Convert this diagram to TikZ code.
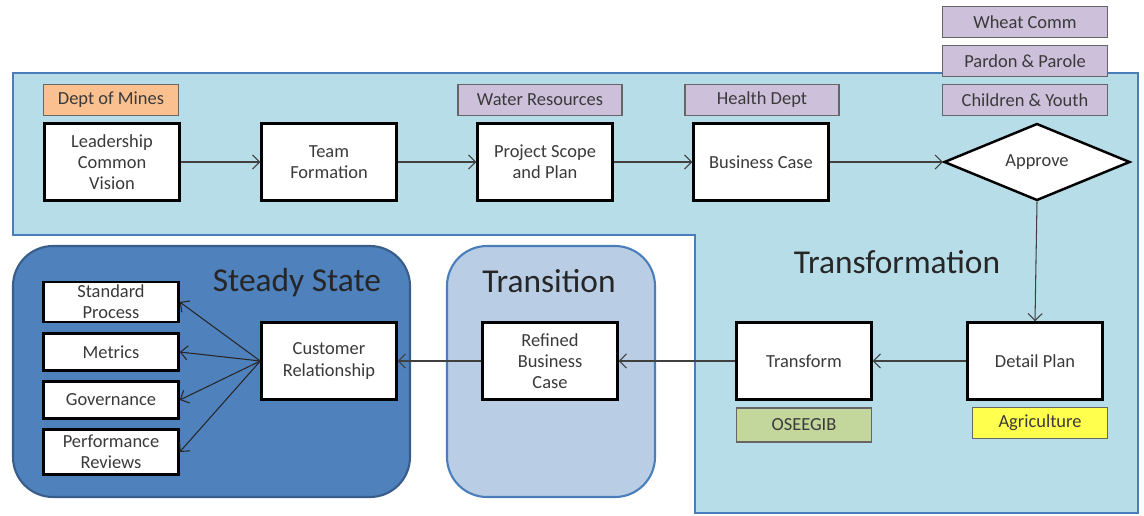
\documentclass[tikz,border=0pt]{standalone}
\usepackage{fontspec}
\setmainfont{Carlito}
\usetikzlibrary{shapes.geometric,arrows.meta}
\definecolor{paleblue}{HTML}{B7DDE8}
\definecolor{edgeblue}{HTML}{4A7EBB}
\definecolor{steadyblue}{HTML}{4F81BD}
\definecolor{steadyedge}{HTML}{385D8A}
\definecolor{transblue}{HTML}{B9CDE5}
\definecolor{lilac}{HTML}{CCC0DA}
\definecolor{peach}{HTML}{FAC090}
\definecolor{olive}{HTML}{C3D69B}
\definecolor{lemon}{HTML}{FFFF4D}
\definecolor{inkgray}{HTML}{3A3A3A}
\tikzset{
  stepbox/.style={draw=black, line width=1.4pt, fill=white, text=inkgray,
    minimum width=2.7cm, minimum height=1.54cm, align=center,
    font=\fontsize{10.5}{12}\selectfont, inner sep=1pt},
  listbox/.style={stepbox, minimum height=0.74cm},
  tagbox/.style={draw=gray!80!black, line width=0.6pt, text=inkgray,
    minimum width=2.7cm, minimum height=0.62cm, font=\fontsize{10.5}{12}\selectfont,
    inner sep=1pt},
  phase/.style={text=black!85, font=\fontsize{19}{21}\selectfont},
  arr/.style={draw=black!75, line width=0.6pt, -{Straight Barb[length=4pt,width=8pt]}}
}
\begin{document}
\begin{tikzpicture}[x=0.02cm, y=-0.02cm]
  \useasboundingbox (0,0) rectangle (1144,515);

  %% regions
  \filldraw[fill=paleblue, draw=edgeblue, line width=1.2pt]
    (13,73) -- (1138,73) -- (1138,513) -- (695,513) -- (695,235) -- (13,235) -- cycle;
  \filldraw[fill=steadyblue, draw=steadyedge, line width=1.2pt, rounded corners=0.8cm]
    (13,246) rectangle (410,497);
  \filldraw[fill=transblue, draw=edgeblue, line width=1.2pt, rounded corners=0.8cm]
    (447,246) rectangle (655,497);

  \node[phase] (lblsteady) at (297,283) {Steady State};
  \node[phase] (lbltransit) at (549,281) {Transition};
  \node[phase] (lbltransf) at (897,262) {Transformation};

  %% top row
  \node[stepbox] (vision) at (112,162) {Leadership\\Common\\Vision};
  \node[stepbox] (team) at (329,162) {Team\\Formation};
  \node[stepbox] (scope) at (545,162) {Project Scope\\and Plan};
  \node[stepbox] (bcase) at (761,162) {Business Case};
  \node[draw=black, line width=1.4pt, fill=white, text=inkgray, diamond, aspect=2.4,
    minimum width=3.72cm, minimum height=1.54cm, inner sep=0pt,
    font=\fontsize{10.5}{12}\selectfont] (approve) at (1037,162) {Approve};

  \node[tagbox, fill=peach] (mines) at (111,100) {Dept of Mines};
  \node[tagbox, fill=lilac, minimum width=3.28cm] (water) at (540,100) {Water Resources};
  \node[tagbox, fill=lilac, minimum width=3.08cm] (health) at (762,100) {Health Dept};
  \node[tagbox, fill=lilac, minimum width=3.3cm] (wheat) at (1025,22) {Wheat Comm};
  \node[tagbox, fill=lilac, minimum width=3.3cm] (pardon) at (1025,61) {Pardon \& Parole};
  \node[tagbox, fill=lilac, minimum width=3.3cm] (youth) at (1025,100) {Children \& Youth};

  %% lower row
  \node[stepbox] (detail) at (1035,361) {Detail Plan};
  \node[stepbox] (transform) at (804,361) {Transform};
  \node[stepbox] (refined) at (550,361) {Refined\\Business\\Case};
  \node[stepbox] (customer) at (329,361) {Customer\\Relationship};

  \node[tagbox, fill=lemon] (agri) at (1040,423) {Agriculture};
  \node[tagbox, fill=olive, minimum height=0.68cm] (oseegib) at (804,425) {OSEEGIB};

  \node[listbox, minimum height=0.8cm] (standard) at (111,302) {Standard\\Process};
  \node[listbox] (metrics) at (111,352) {Metrics};
  \node[listbox] (govern) at (111,400) {Governance};
  \node[listbox, minimum height=0.9cm] (review) at (111,452) {Performance\\Reviews};

  %% arrows
  \draw[arr] (vision) -- (team);
  \draw[arr] (team) -- (scope);
  \draw[arr] (scope) -- (bcase);
  \draw[arr] (bcase) -- (approve);
  \draw[arr] (approve.south) -- (detail.north);
  \draw[arr] (detail) -- (transform);
  \draw[arr] (transform) -- (refined);
  \draw[arr] (refined) -- (customer);
  \draw[arr, draw=black!85] (customer.west) -- (standard.east);
  \draw[arr, draw=black!85] (customer.west) -- (metrics.east);
  \draw[arr, draw=black!85] (customer.west) -- (govern.east);
  \draw[arr, draw=black!85] (customer.west) -- (review.east);
\end{tikzpicture}
\end{document}
